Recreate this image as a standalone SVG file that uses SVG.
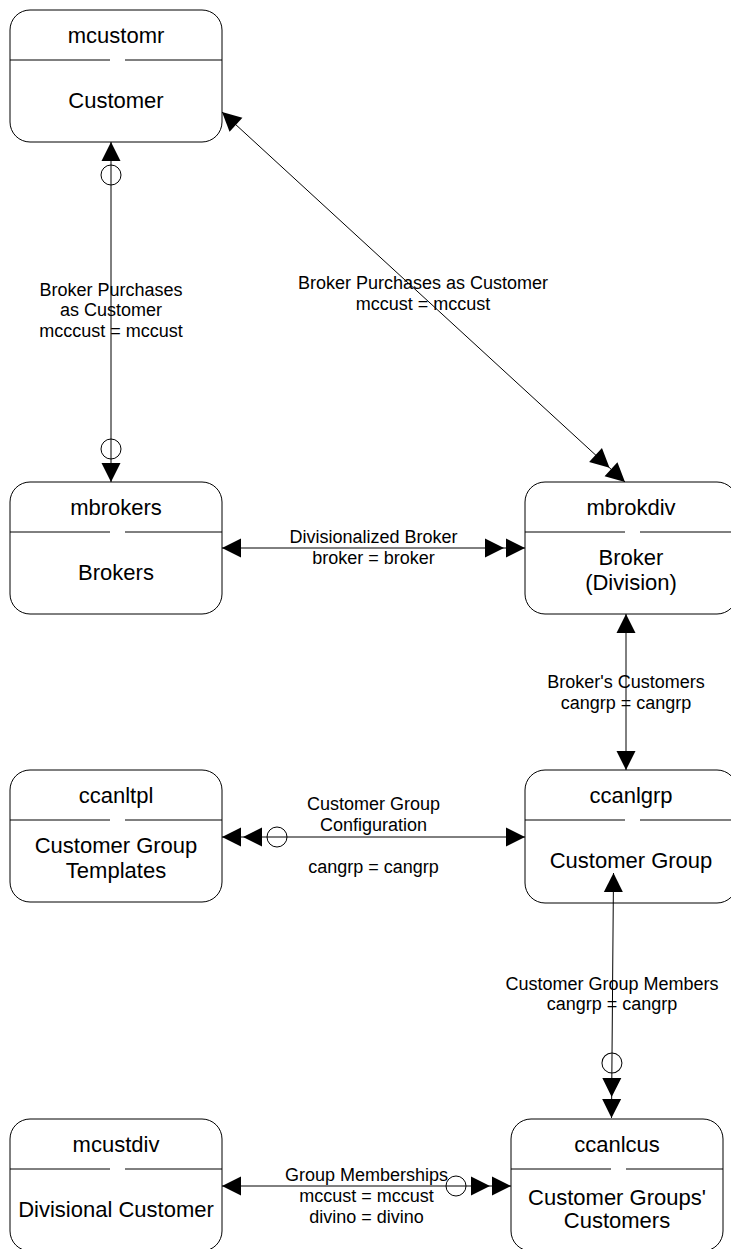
<svg xmlns="http://www.w3.org/2000/svg" width="731" height="1249" viewBox="0 0 731 1249">
<style>
.box{fill:#fff;stroke:#000;stroke-width:1}
.div{stroke:#000;stroke-width:1;fill:none}
.nt{font-family:"Liberation Sans",Arial,sans-serif;font-size:22px;fill:#000;text-anchor:middle}
.lt{font-family:"Liberation Sans",Arial,sans-serif;font-size:18px;fill:#000;text-anchor:middle}
.cn{stroke:#000;stroke-width:1;fill:none}
.ah{fill:#000;stroke:none}
.oc{fill:none;stroke:#000;stroke-width:1}
</style>
<defs>
<marker id="a1" markerUnits="userSpaceOnUse" orient="auto-start-reverse" viewBox="-70 -15 80 30" markerWidth="80" markerHeight="30" refX="0" refY="0">
<path class="ah" d="M0,0 L-19,-9.5 L-19,9.5 Z"/>
</marker>
<marker id="a2" markerUnits="userSpaceOnUse" orient="auto-start-reverse" viewBox="-70 -15 80 30" markerWidth="80" markerHeight="30" refX="0" refY="0">
<path class="ah" d="M0,0 L-19,-9.5 L-19,9.5 Z M-21,0 L-40,-9.5 L-40,9.5 Z"/>
</marker>
<marker id="a1c" markerUnits="userSpaceOnUse" orient="auto-start-reverse" viewBox="-70 -15 80 30" markerWidth="80" markerHeight="30" refX="0" refY="0">
<path class="ah" d="M0,0 L-19,-9.5 L-19,9.5 Z"/>
<circle class="oc" cx="-33" cy="0" r="10"/>
</marker>
<marker id="a2c" markerUnits="userSpaceOnUse" orient="auto-start-reverse" viewBox="-70 -15 80 30" markerWidth="80" markerHeight="30" refX="0" refY="0">
<path class="ah" d="M0,0 L-19,-9.5 L-19,9.5 Z M-21,0 L-40,-9.5 L-40,9.5 Z"/>
<circle class="oc" cx="-55" cy="0" r="10"/>
</marker>
</defs>

<g id="nodes">
<g id="mcustomr">
<rect class="box" x="10" y="10" width="212" height="132" rx="20"/>
<path class="div" d="M10,60 H110 M125,60 H222"/>
<text class="nt" x="116" y="43">mcustomr</text>
<text class="nt" x="116" y="108">Customer</text>
</g>
<g id="mbrokers">
<rect class="box" x="10" y="482" width="212" height="132" rx="20"/>
<path class="div" d="M10,532 H110 M125,532 H222"/>
<text class="nt" x="116" y="515">mbrokers</text>
<text class="nt" x="116" y="580">Brokers</text>
</g>
<g id="mbrokdiv">
<rect class="box" x="525" y="482" width="212" height="132" rx="20"/>
<path class="div" d="M525,532 H625 M640,532 H737"/>
<text class="nt" x="631" y="515">mbrokdiv</text>
<text class="nt" x="631" y="565">Broker</text>
<text class="nt" x="631" y="590">(Division)</text>
</g>
<g id="ccanltpl">
<rect class="box" x="10" y="770" width="212" height="132" rx="20"/>
<path class="div" d="M10,820 H110 M125,820 H222"/>
<text class="nt" x="116" y="803">ccanltpl</text>
<text class="nt" x="116" y="853">Customer Group</text>
<text class="nt" x="116" y="878">Templates</text>
</g>
<g id="ccanlgrp">
<rect class="box" x="525" y="770" width="212" height="133" rx="20"/>
<path class="div" d="M525,820 H625 M640,820 H737"/>
<text class="nt" x="631" y="803">ccanlgrp</text>
<text class="nt" x="631" y="868">Customer Group</text>
</g>
<g id="mcustdiv">
<rect class="box" x="10" y="1119" width="212" height="132" rx="20"/>
<path class="div" d="M10,1169 H110 M125,1169 H222"/>
<text class="nt" x="116" y="1152">mcustdiv</text>
<text class="nt" x="116" y="1217">Divisional Customer</text>
</g>
<g id="ccanlcus">
<rect class="box" x="511" y="1119" width="212" height="132" rx="20"/>
<path class="div" d="M511,1169 H611 M626,1169 H723"/>
<text class="nt" x="617" y="1152">ccanlcus</text>
<text class="nt" x="617" y="1205">Customer Groups'</text>
<text class="nt" x="617" y="1228">Customers</text>
</g>
</g>

<g id="connectors">
<path class="cn" d="M111,142 L111,482" marker-start="url(#a1c)" marker-end="url(#a1c)"/>
<path class="cn" d="M222,112 L625,482" marker-start="url(#a1)" marker-end="url(#a2)"/>
<path class="cn" d="M222,548 L525,548" marker-start="url(#a1)" marker-end="url(#a2)"/>
<path class="cn" d="M626,614 L626,770" marker-start="url(#a1)" marker-end="url(#a1)"/>
<path class="cn" d="M222,837 L525,837" marker-start="url(#a2c)" marker-end="url(#a1)"/>
<path class="cn" d="M613.5,873 L611.5,1118" marker-start="url(#a1)" marker-end="url(#a2c)"/>
<path class="cn" d="M222,1186 L511,1186" marker-start="url(#a1)" marker-end="url(#a2c)"/>
</g>

<g id="labels">
<text class="lt" x="111" y="296">Broker Purchases</text>
<text class="lt" x="111" y="316">as Customer</text>
<text class="lt" x="111" y="337">mcccust = mccust</text>
<text class="lt" x="423" y="289">Broker Purchases as Customer</text>
<text class="lt" x="423" y="310">mccust = mccust</text>
<text class="lt" x="373.5" y="543">Divisionalized Broker</text>
<text class="lt" x="373.5" y="564">broker = broker</text>
<text class="lt" x="626" y="688">Broker's Customers</text>
<text class="lt" x="626" y="709">cangrp = cangrp</text>
<text class="lt" x="373.5" y="810">Customer Group</text>
<text class="lt" x="373.5" y="831">Configuration</text>
<text class="lt" x="373.5" y="873">cangrp = cangrp</text>
<text class="lt" x="612" y="990">Customer Group Members</text>
<text class="lt" x="612" y="1010">cangrp = cangrp</text>
<text class="lt" x="366.5" y="1181">Group Memberships</text>
<text class="lt" x="366.5" y="1202">mccust = mccust</text>
<text class="lt" x="366.5" y="1223">divino = divino</text>
</g>
</svg>
